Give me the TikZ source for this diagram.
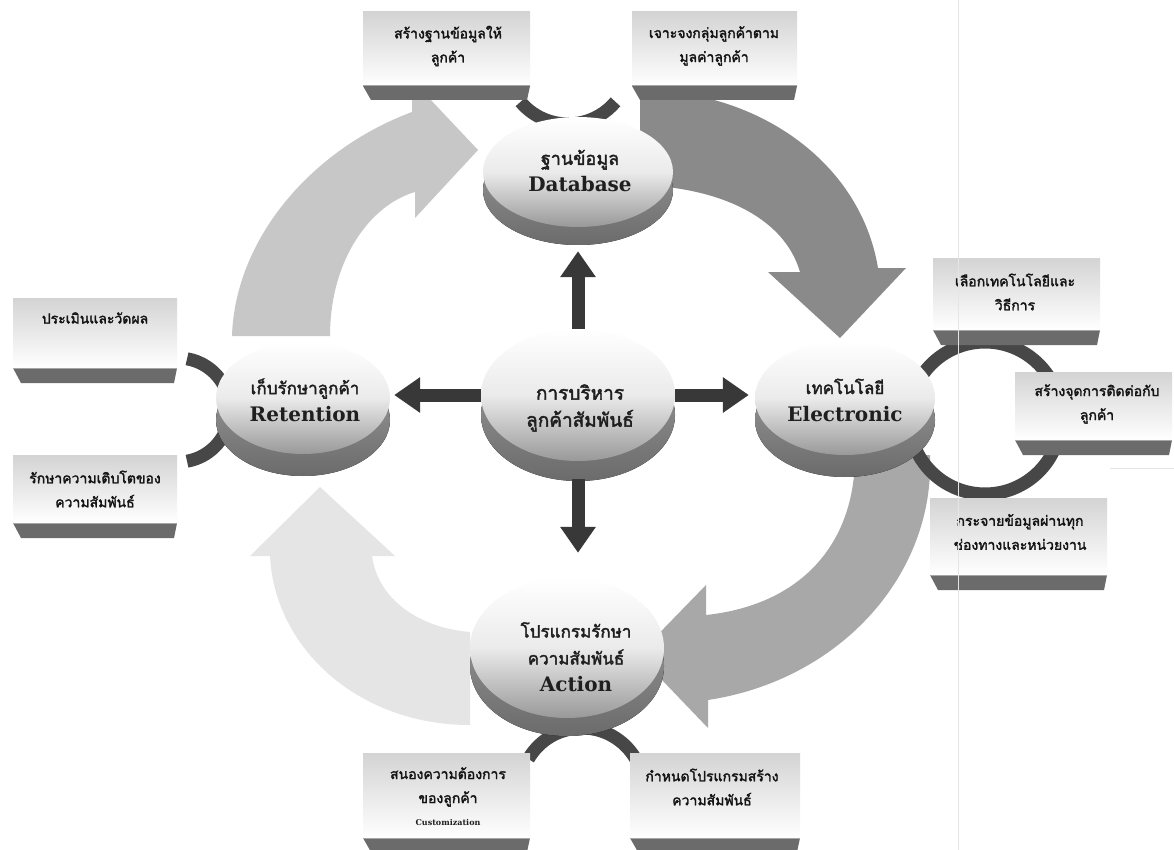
\documentclass[tikz,border=0pt]{standalone}
\usepackage{fontspec}
\setmainfont{Liberation Serif}
\newfontfamily\thaifont[Script=Thai, FakeBold=2.2]{Loma}
\newfontfamily\latinfont{DejaVu Serif}
\usetikzlibrary{shapes.geometric,arrows.meta}
\tikzset{
  cycTL/.style={fill=black!22},
  cycTR/.style={fill=black!46},
  cycBR/.style={fill=black!34},
  cycBL/.style={fill=black!10},
  ring/.style={draw=black!72, line width=13pt},
  boxbg/.style={top color=black!17, bottom color=white},
  boxbar/.style={fill=black!58},
  boxtext/.style={font=\thaifont\fontsize{14}{24}\selectfont, align=center, text=black!92, inner sep=0pt},
  disktop/.style={ellipse, draw=none, inner sep=0pt, top color=white, bottom color=black!40, middle color=black!8},
  diskrim/.style={top color=black!38, bottom color=black!58},
  disktext/.style={font=\fontsize{20}{27}\selectfont, align=center, text=black!88, inner sep=0pt},
  link/.style={draw=black!78, line width=13pt, -{Triangle[length=26pt,width=34pt]}},
}
\newcommand\SatBox[5]{%
  \fill[boxbg] (#1,#3) rectangle (#2,#4);
  \fill[boxbar] (#1,#4) -- (#2,#4) -- (#2-3,#5) -- (#1+8,#5) -- cycle;
  \draw[black!35, line width=1pt] (#1,#4) -- (#2,#4);
}
\newcommand\DiskAt[6]{% name cx cy width height rim
  \fill[diskrim] (#2,#3+#6) ellipse[x radius=#4/2, y radius=#5/2];
  \node[disktop, minimum width=#4pt, minimum height=#5pt] (#1) at (#2,#3) {};
}
\begin{document}
\begin{tikzpicture}[x=1pt,y=-1pt]
\useasboundingbox (0,0) rectangle (1174,850);
\fill[white] (0,0) rectangle (1174,850);

% cycle arrows
\fill[cycTL] (232,336) .. controls (235,240) and (310,150) .. (412,112) -- (412,80) -- (478,150) -- (415,218) -- (415,192) .. controls (370,205) and (330,260) .. (330,336) -- cycle;
\fill[cycTR] (640,90) .. controls (755,90) and (860,160) .. (878,268) -- (906,268) -- (840,338) -- (768,272) -- (800,272) .. controls (785,220) and (725,188) .. (640,185) -- cycle;
\fill[cycBR] (930,455) .. controls (935,575) and (840,680) .. (708,700) -- (708,728) -- (638,655) -- (706,585) -- (706,615) .. controls (800,605) and (855,545) .. (855,455) -- cycle;
\fill[cycBL] (470,725) .. controls (360,725) and (275,650) .. (270,556) -- (250,556) -- (320,487) -- (395,556) -- (372,556) .. controls (378,600) and (420,628) .. (470,632) -- cycle;

% rings
\draw[ring] (568,62) ++(140:62) arc[start angle=140, end angle=40, radius=62];
\draw[ring] (178,410) ++(-80:52) arc[start angle=-80, end angle=80, radius=52];
\draw[ring] (985,418) circle[radius=76];
\draw[ring] (582,790) ++(-150:62) arc[start angle=-150, end angle=-30, radius=62];

% satellite boxes
\SatBox{363}{530}{12}{86}{100}
\SatBox{632}{797}{12}{86}{100}
\SatBox{13}{177}{298}{368}{383}
\SatBox{13}{177}{455}{523}{538}
\SatBox{933}{1100}{258}{330}{345}
\SatBox{1015}{1172}{372}{440}{455}
\SatBox{930}{1107}{498}{575}{590}
\SatBox{363}{530}{753}{838}{852}
\SatBox{630}{800}{753}{838}{852}

% disks
\DiskAt{db}{578}{172}{190}{110}{18}
\DiskAt{ret}{303}{398}{174}{112}{22}
\DiskAt{ele}{845}{398}{180}{114}{22}
\DiskAt{act}{567}{648}{194}{140}{18}
\DiskAt{ctr}{578}{395}{194}{132}{20}

% straight arrows
\draw[link, shorten >=24pt] (ctr.north) -- (ctr.north |- db.south);
\draw[link, shorten >=4pt] (ctr.west) -- (ctr.west -| ret.east);
\draw[link, shorten >=6pt] (ctr.east) -- (ctr.east -| ele.west);
\draw[link, shorten <=18pt, shorten >=25pt] (ctr.south) -- (ctr.south |- act.north);

% disk texts
\node[disktext] (dbt) at (580,171) {{\thaifont\fontsize{18}{27}\selectfont ฐานข้อมูล}\\{\latinfont\bfseries Database}};
\node[disktext] (ctrt) at (580,408) {{\thaifont\fontsize{19}{30}\selectfont การบริหาร}\\{\thaifont\fontsize{19}{30}\selectfont ลูกค้าสัมพันธ์}};
\node[disktext] (rett) at (305,400) {{\thaifont\fontsize{17}{26}\selectfont เก็บรักษาลูกค้า}\\{\latinfont\bfseries Retention}};
\node[disktext] (elet) at (845,400) {{\thaifont\fontsize{17}{26}\selectfont เทคโนโลยี}\\{\latinfont\bfseries Electronic}};
\node[disktext] (actt) at (576,657) {{\thaifont\fontsize{17}{26}\selectfont โปรแกรมรักษา}\\{\thaifont\fontsize{17}{26}\selectfont ความสัมพันธ์}\\{\latinfont\bfseries Action}};

% box texts
\node[boxtext] (tb1) at (448,46) {สร้างฐานข้อมูลให้\\ลูกค้า};
\node[boxtext] (tb2) at (714,46) {เจาะจงกลุ่มลูกค้าตาม\\มูลค่าลูกค้า};
\node[boxtext] (tl1) at (95,318) {ประเมินและวัดผล};
\node[boxtext] (tl2) at (95,489) {รักษาความเติบโตของ\\ความสัมพันธ์};
\node[boxtext] (tr1) at (1015,292) {เลือกเทคโนโลยีและ\\วิธีการ};
\node[boxtext] (tr2) at (1097,404) {สร้างจุดการติดต่อกับ\\ลูกค้า};
\node[boxtext] (tr3) at (1020,532) {กระจายข้อมูลผ่านทุก\\ช่องทางและหน่วยงาน};
\node[boxtext] (tbb1) at (448,787) {สนองความต้องการ\\ของลูกค้า};
\node[font=\latinfont\bfseries\fontsize{8}{10}\selectfont, text=black!88, inner sep=0pt] (tbb1c) at (448,823) {Customization};
\node[boxtext] (tbb2) at (712,787) {กำหนดโปรแกรมสร้าง\\ความสัมพันธ์};

% scan artefacts
\draw[black!10, line width=1pt] (958,0) -- (958,850);
\draw[black!10, line width=1pt] (1110,468) -- (1174,468);
\end{tikzpicture}
\end{document}
